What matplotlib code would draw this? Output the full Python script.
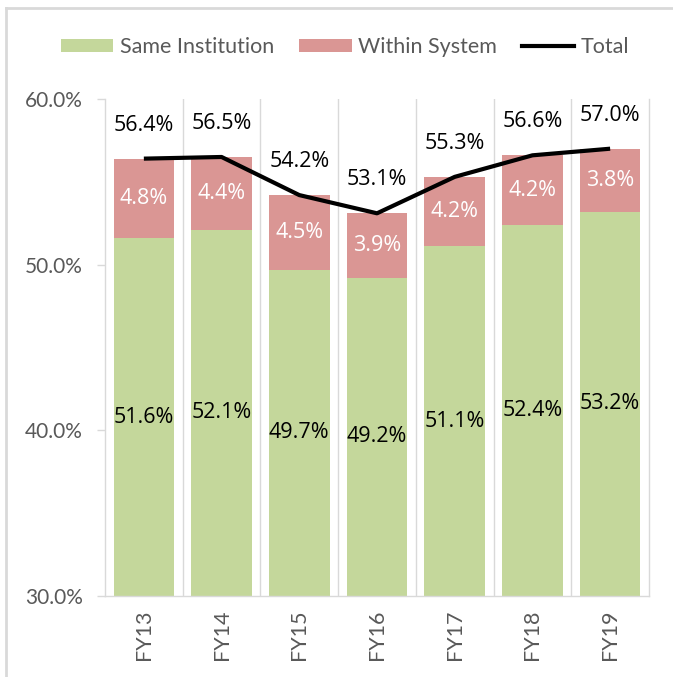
import matplotlib
matplotlib.use("Agg")
import matplotlib.pyplot as plt
from matplotlib.patches import Patch
from matplotlib.lines import Line2D
import numpy as np

categories = ["FY13", "FY14", "FY15", "FY16", "FY17", "FY18", "FY19"]
same_institution = [51.6, 52.1, 49.7, 49.2, 51.1, 52.4, 53.2]
within_system = [4.8, 4.4, 4.5, 3.9, 4.2, 4.2, 3.8]
total = [56.4, 56.5, 54.2, 53.1, 55.3, 56.6, 57.0]
yticks = [30, 40, 50, 60]

GREEN = "#C4D79B"
RED = "#DA9694"
GRID = "#D9D9D9"
TXT = "#595959"
NARROW = ["Lato", "DejaVu Sans"]
LABELF = ["Open Sans", "DejaVu Sans"]

fig = plt.figure(figsize=(6.73, 6.77), dpi=100)
ax = fig.add_axes([105 / 673, 1 - 596 / 677, (649 - 105) / 673, (596 - 99) / 677])

x = np.arange(len(categories))
ymin = 30
w = 0.78
ax.bar(x, same_institution, width=w, color=GREEN, zorder=2)
ax.bar(x, within_system, width=w, bottom=same_institution, color=RED, zorder=2)
ax.plot(x, total, color="black", lw=3, zorder=3, solid_capstyle="butt")

ax.set_xlim(-0.5, len(categories) - 0.5)
ax.set_ylim(ymin, 60)

for b in np.arange(0.5, len(categories) - 0.5, 1.0):
    ax.axvline(b, color=GRID, lw=1, zorder=1)

for i in range(len(categories)):
    ax.text(x[i], (ymin + same_institution[i]) / 2, f"{same_institution[i]:.1f}%",
            ha="center", va="center", fontsize=15.5, family=LABELF, color="black", zorder=4)
    ax.text(x[i], same_institution[i] + within_system[i] / 2, f"{within_system[i]:.1f}%",
            ha="center", va="center", fontsize=15.5, family=LABELF, color="white", zorder=4)
    ax.annotate(f"{total[i]:.1f}%", (x[i], total[i]), xytext=(0, 24),
                textcoords="offset points", ha="center", va="center",
                fontsize=15.5, family=LABELF, color="black", zorder=4)

ax.set_yticks(yticks)
ax.set_yticklabels([f"{v:.1f}%" for v in yticks], family=NARROW, fontsize=15, color=TXT)
ax.set_xticks(x)
ax.set_xticklabels(categories, rotation=90, family=NARROW, fontsize=15.5, color=TXT)
ax.tick_params(axis="y", direction="out", length=6, width=1, color=GRID, pad=10)
ax.tick_params(axis="x", length=0, pad=10)

for s in ["left", "bottom", "right"]:
    ax.spines[s].set_color(GRID)
    ax.spines[s].set_linewidth(1)
ax.spines["top"].set_visible(False)

handles = [Patch(facecolor=GREEN, edgecolor="none"),
           Patch(facecolor=RED, edgecolor="none"),
           Line2D([0], [0], color="black", lw=3)]
fig.legend(handles, ["Same Institution", "Within System", "Total"],
           loc="center", bbox_to_anchor=(345 / 673, 1 - 47 / 677), ncol=3,
           frameon=False, prop={"family": NARROW, "size": 15.5},
           handlelength=2.45, handleheight=0.6, handletextpad=0.3,
           columnspacing=1.15, labelcolor=TXT)

fig.add_artist(Line2D([6 / 673, 6 / 673], [0, 1 - 8 / 677], color=GRID, lw=2,
                      transform=fig.transFigure))
fig.add_artist(Line2D([6 / 673, 1], [1 - 8 / 677, 1 - 8 / 677], color=GRID, lw=2,
                      transform=fig.transFigure))

fig.savefig("out.png", dpi=100)
